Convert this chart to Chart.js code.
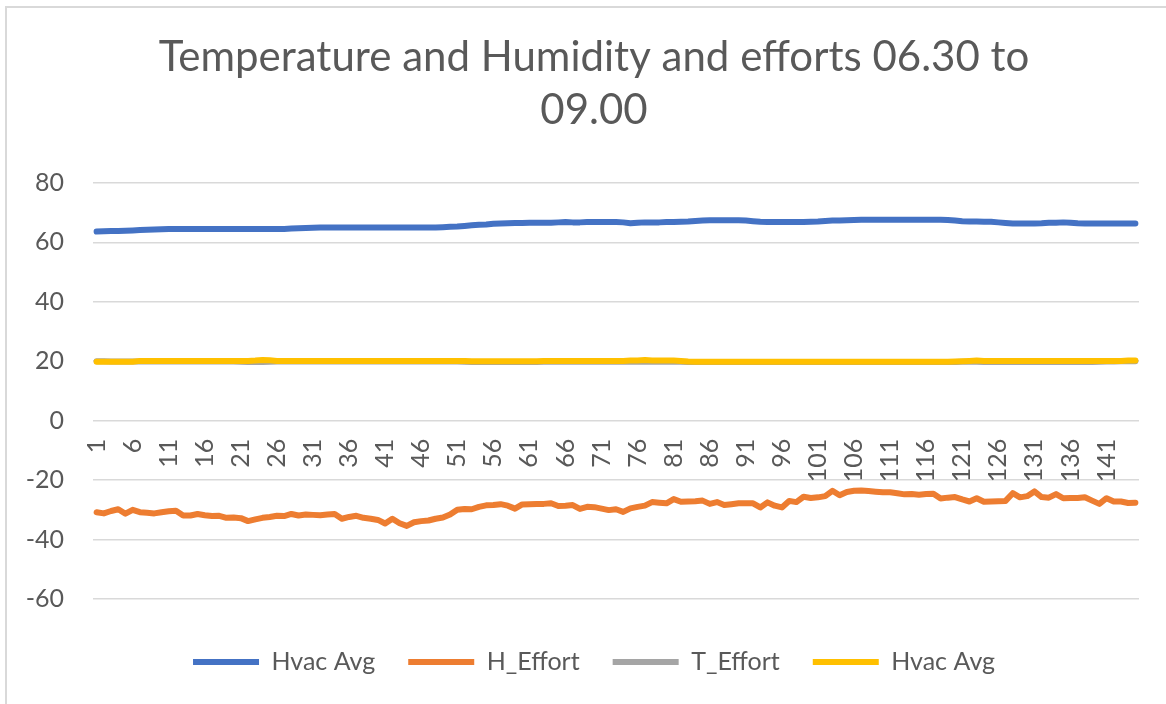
<!DOCTYPE html>
<html>
<head>
<meta charset="utf-8">
<script src="https://cdn.jsdelivr.net/npm/chart.js@4"></script>
<style>
  html, body { margin: 0; padding: 0; background: #fff; overflow: hidden; }
  #frame {
    position: absolute; left: 5px; top: 6px; width: 1180px;
    border-top: 2px solid #d9d9d9; border-left: 2px solid #d9d9d9;
  }
  #chart { display: block; }
</style>
</head>
<body>
<div id="frame"><canvas id="chart" width="1174" height="720"></canvas></div>
<script>
// sample numbers 1..145
const labels = [];
for (let i = 1; i <= 145; i++) labels.push(String(i));

const hvacAvg = [
  63.6, 63.7, 63.8, 63.8, 63.9, 64.0, 64.1, 64.2, 64.3, 64.4,
  64.5, 64.5, 64.5, 64.5, 64.5, 64.5, 64.5, 64.5, 64.5, 64.5,
  64.5, 64.5, 64.5, 64.5, 64.5, 64.5, 64.5, 64.6, 64.7, 64.8,
  64.9, 65.0, 65.0, 65.0, 65.0, 65.0, 65.0, 65.0, 65.0, 65.0,
  65.0, 65.0, 65.0, 65.0, 65.0, 65.0, 65.0, 65.0, 65.1, 65.2,
  65.3, 65.5, 65.7, 65.9, 66.0, 66.2, 66.3, 66.4, 66.5, 66.5,
  66.6, 66.6, 66.6, 66.6, 66.7, 66.8, 66.7, 66.7, 66.8, 66.8,
  66.8, 66.8, 66.8, 66.7, 66.4, 66.6, 66.7, 66.7, 66.7, 66.8,
  66.8, 66.9, 67.0, 67.2, 67.3, 67.4, 67.4, 67.4, 67.4, 67.4,
  67.3, 67.1, 66.9, 66.8, 66.8, 66.8, 66.8, 66.8, 66.8, 66.9,
  67.0, 67.2, 67.3, 67.3, 67.4, 67.5, 67.6, 67.6, 67.6, 67.6,
  67.6, 67.6, 67.6, 67.6, 67.6, 67.6, 67.6, 67.6, 67.5, 67.3,
  67.1, 67.0, 67.0, 66.9, 66.9, 66.7, 66.5, 66.3, 66.3, 66.3,
  66.3, 66.4, 66.6, 66.6, 66.7, 66.6, 66.4, 66.3, 66.3, 66.3,
  66.3, 66.3, 66.3, 66.3, 66.3
];

const hEffort = [
  -30.8, -31.2, -30.4, -29.8, -31.3, -30.0, -30.8, -31.0, -31.2, -30.8,
  -30.5, -30.3, -31.9, -31.9, -31.4, -31.8, -32.1, -32.0, -32.7, -32.6,
  -32.8, -33.8, -33.2, -32.7, -32.4, -32.0, -32.1, -31.4, -31.9, -31.6,
  -31.7, -31.8, -31.6, -31.4, -33.0, -32.4, -32.0, -32.7, -33.0, -33.4,
  -34.6, -33.0, -34.5, -35.4, -34.2, -33.8, -33.6, -33.0, -32.6, -31.6,
  -30.0, -29.7, -29.8, -29.0, -28.5, -28.4, -28.1, -28.6, -29.6, -28.2,
  -28.1, -28.0, -28.0, -27.8, -28.7, -28.6, -28.4, -29.7, -29.0, -29.1,
  -29.6, -30.1, -29.8, -30.7, -29.5, -29.0, -28.6, -27.4, -27.6, -27.8,
  -26.4, -27.3, -27.2, -27.1, -26.9, -28.0, -27.4, -28.4, -28.1, -27.8,
  -27.8, -27.8, -29.2, -27.5, -28.6, -29.2, -27.0, -27.4, -25.6, -26.0,
  -25.8, -25.4, -23.6, -25.1, -24.0, -23.6, -23.5, -23.7, -23.9, -24.1,
  -24.1, -24.4, -24.8, -24.7, -24.9, -24.7, -24.6, -26.2, -25.9, -25.7,
  -26.5, -27.2, -26.1, -27.3, -27.2, -27.1, -27.0, -24.4, -25.8, -25.4,
  -23.8, -25.7, -25.9, -24.7, -26.1, -26.0, -26.0, -25.8, -26.9, -28.0,
  -26.1, -27.2, -27.2, -27.7, -27.6
];

const tEffort = [
  20.0, 20.0, 19.9, 19.9, 19.9, 19.9, 19.9, 19.9, 19.9, 19.9,
  19.9, 19.9, 19.9, 19.9, 19.9, 19.9, 19.9, 19.9, 19.9, 19.9,
  19.8, 19.7, 19.7, 19.7, 19.8, 19.9, 19.9, 19.9, 19.9, 19.9,
  19.9, 19.9, 19.9, 19.9, 19.9, 19.9, 19.9, 19.9, 19.9, 19.9,
  19.9, 19.9, 19.9, 19.9, 19.9, 19.9, 19.9, 19.9, 19.9, 19.9,
  19.9, 19.8, 19.7, 19.7, 19.7, 19.7, 19.7, 19.7, 19.7, 19.7,
  19.7, 19.7, 19.8, 19.8, 19.8, 19.8, 19.8, 19.8, 19.8, 19.8,
  19.8, 19.8, 19.8, 19.8, 19.8, 19.8, 19.8, 19.8, 19.8, 19.8,
  19.8, 19.8, 19.7, 19.7, 19.7, 19.7, 19.7, 19.7, 19.7, 19.7,
  19.7, 19.7, 19.7, 19.7, 19.7, 19.7, 19.7, 19.7, 19.7, 19.7,
  19.7, 19.7, 19.7, 19.7, 19.7, 19.7, 19.7, 19.7, 19.7, 19.7,
  19.7, 19.7, 19.7, 19.7, 19.7, 19.7, 19.7, 19.7, 19.7, 19.7,
  19.8, 19.8, 19.8, 19.7, 19.7, 19.7, 19.7, 19.7, 19.7, 19.7,
  19.7, 19.7, 19.7, 19.7, 19.7, 19.7, 19.7, 19.7, 19.7, 19.8,
  19.9, 19.9, 20.0, 20.0, 20.0
];

const hvacAvg2 = [
  19.8, 19.8, 19.8, 19.8, 19.8, 19.8, 20.1, 20.1, 20.1, 20.1,
  20.1, 20.1, 20.1, 20.1, 20.1, 20.1, 20.1, 20.1, 20.1, 20.1,
  20.1, 20.1, 20.2, 20.4, 20.3, 20.1, 20.1, 20.1, 20.1, 20.1,
  20.1, 20.1, 20.1, 20.1, 20.1, 20.1, 20.1, 20.1, 20.1, 20.1,
  20.1, 20.1, 20.1, 20.1, 20.1, 20.1, 20.1, 20.1, 20.1, 20.1,
  20.1, 20.1, 20.0, 20.0, 20.0, 20.0, 20.0, 20.0, 20.0, 20.0,
  20.0, 20.0, 20.1, 20.1, 20.1, 20.1, 20.1, 20.1, 20.1, 20.1,
  20.1, 20.1, 20.1, 20.1, 20.2, 20.2, 20.4, 20.2, 20.2, 20.2,
  20.2, 20.1, 19.9, 19.8, 19.8, 19.8, 19.8, 19.8, 19.8, 19.8,
  19.8, 19.8, 19.8, 19.8, 19.8, 19.8, 19.8, 19.8, 19.8, 19.8,
  19.8, 19.8, 19.8, 19.8, 19.8, 19.8, 19.8, 19.8, 19.8, 19.8,
  19.8, 19.8, 19.8, 19.8, 19.8, 19.8, 19.8, 19.8, 19.8, 19.9,
  20.0, 20.1, 20.2, 20.1, 20.1, 20.1, 20.1, 20.1, 20.1, 20.1,
  20.1, 20.1, 20.1, 20.1, 20.1, 20.1, 20.1, 20.1, 20.1, 20.1,
  20.1, 20.1, 20.1, 20.2, 20.2
];

const yTicks = { min: -60, max: 80, step: 20 };

const textColor = '#595959';
const gridColor = '#d9d9d9';
const fontFamily = 'Lato';

function lineSet(label, data, color, order) {
  return {
    label: label,
    data: data,
    borderColor: color,
    backgroundColor: color,
    borderWidth: 6,
    borderCapStyle: 'round',
    borderJoinStyle: 'round',
    pointRadius: 0,
    pointHoverRadius: 0,
    tension: 0,
    fill: false,
    order: order,
    yAxisID: 'y'
  };
}

new Chart(document.getElementById('chart'), {
  type: 'line',
  data: {
    labels: labels,
    datasets: [
      lineSet('Hvac Avg', hvacAvg, '#4472C4', 4),
      lineSet('H_Effort', hEffort, '#ED7D31', 3),
      lineSet('T_Effort', tEffort, '#A5A5A5', 2),
      lineSet('Hvac Avg', hvacAvg2, '#FFC000', 1)
    ]
  },
  options: {
    responsive: false,
    animation: false,
    devicePixelRatio: 1,
    layout: { padding: { left: 0, right: 0, top: 0, bottom: 43.5 } },
    plugins: {
      title: {
        display: true,
        text: ['Temperature and Humidity and efforts 06.30 to', '09.00'],
        color: textColor,
        font: { family: fontFamily, size: 42, weight: 'normal', lineHeight: 1.26 },
        padding: { top: 23, bottom: 46 }
      },
      legend: {
        position: 'bottom',
        title: { display: true, text: '', padding: 1.55 },
        labels: {
          usePointStyle: true,
          pointStyle: 'line',
          pointStyleWidth: 66,
          color: textColor,
          padding: 33,
          font: { family: fontFamily, size: 25 },
          sort: (a, b) => a.datasetIndex - b.datasetIndex
        }
      },
      tooltip: { enabled: false }
    },
    scales: {
      x: {
        type: 'category',
        position: { y: 0 },
        offset: true,
        grid: { display: false },
        border: { display: false },
        ticks: {
          autoSkip: false,
          minRotation: 90,
          maxRotation: 90,
          padding: 10,
          color: textColor,
          font: { family: fontFamily, size: 25 },
          callback: function (value, index) {
            return index % 5 === 0 ? this.getLabelForValue(value) : '';
          }
        }
      },
      y: {
        min: yTicks.min,
        max: yTicks.max,
        afterFit: (scale) => { scale.width = 86; },
        grid: { color: gridColor, lineWidth: 1.5, drawTicks: false },
        border: { display: false },
        ticks: {
          stepSize: yTicks.step,
          padding: 29,
          color: textColor,
          font: { family: fontFamily, size: 25 }
        }
      },
      // empty right-hand strip, keeps the plot off the right edge
      spacer: {
        axis: 'y',
        position: 'right',
        afterFit: (scale) => { scale.width = 42; },
        grid: { display: false },
        border: { display: false },
        ticks: { display: false }
      }
    }
  }
});
</script>
</body>
</html>
